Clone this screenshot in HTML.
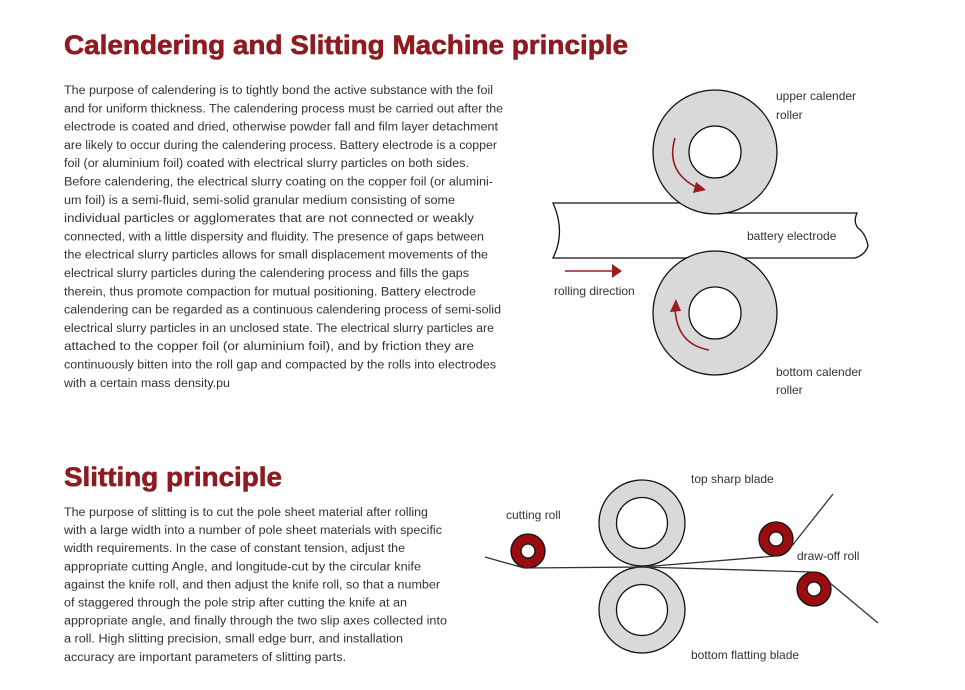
<!DOCTYPE html>
<html><head><meta charset="utf-8"><style>
html,body{margin:0;padding:0;background:#fff;}
svg{display:block;}
.t{font-family:"Liberation Sans",sans-serif;font-size:11.5px;fill:#333;}
.h{font-family:"Liberation Sans",sans-serif;font-weight:bold;font-size:27px;fill:#8e1b20;stroke:#8e1b20;stroke-width:0.6;}
</style></head><body>
<svg width="965" height="690" viewBox="0 0 965 690" xmlns="http://www.w3.org/2000/svg">
<text class="h" x="64" y="54" textLength="564" lengthAdjust="spacingAndGlyphs">Calendering and Slitting Machine principle</text>
<g class="t">
<text x="64" y="94" textLength="429" lengthAdjust="spacingAndGlyphs">The purpose of calendering is to tightly bond the active substance with the foil</text>
<text x="64" y="112.3" textLength="439" lengthAdjust="spacingAndGlyphs">and for uniform thickness. The calendering process must be carried out after the</text>
<text x="64" y="130.6" textLength="434" lengthAdjust="spacingAndGlyphs">electrode is coated and dried, otherwise powder fall and film layer detachment</text>
<text x="64" y="148.9" textLength="433" lengthAdjust="spacingAndGlyphs">are likely to occur during the calendering process. Battery electrode is a copper</text>
<text x="64" y="167.2" textLength="405" lengthAdjust="spacingAndGlyphs">foil (or aluminium foil) coated with electrical slurry particles on both sides.</text>
<text x="64" y="185.5" textLength="429" lengthAdjust="spacingAndGlyphs">Before calendering, the electrical slurry coating on the copper foil (or alumini-</text>
<text x="64" y="203.8" textLength="391" lengthAdjust="spacingAndGlyphs">um foil) is a semi-fluid, semi-solid granular medium consisting of some</text>
<text x="64" y="222.1" textLength="410" lengthAdjust="spacingAndGlyphs">individual particles or agglomerates that are not connected or weakly</text>
<text x="64" y="240.4" textLength="420" lengthAdjust="spacingAndGlyphs">connected, with a little dispersity and fluidity. The presence of gaps between</text>
<text x="64" y="258.7" textLength="424" lengthAdjust="spacingAndGlyphs">the electrical slurry particles allows for small displacement movements of the</text>
<text x="64" y="277" textLength="405" lengthAdjust="spacingAndGlyphs">electrical slurry particles during the calendering process and fills the gaps</text>
<text x="64" y="295.3" textLength="412" lengthAdjust="spacingAndGlyphs">therein, thus promote compaction for mutual positioning. Battery electrode</text>
<text x="64" y="313.6" textLength="437" lengthAdjust="spacingAndGlyphs">calendering can be regarded as a continuous calendering process of semi-solid</text>
<text x="64" y="331.9" textLength="430" lengthAdjust="spacingAndGlyphs">electrical slurry particles in an unclosed state. The electrical slurry particles are</text>
<text x="64" y="350.2" textLength="410" lengthAdjust="spacingAndGlyphs">attached to the copper foil (or aluminium foil), and by friction they are</text>
<text x="64" y="368.5" textLength="432" lengthAdjust="spacingAndGlyphs">continuously bitten into the roll gap and compacted by the rolls into electrodes</text>
<text x="64" y="386.8" textLength="166" lengthAdjust="spacingAndGlyphs">with a certain mass density.pu</text>
</g>

<!-- calender diagram -->
<path d="M553,203 L705,203 L705,213 L857,213 Q853,222 858,228 Q866,234 868,246 Q865,255 855,258 L553,258 Q566,232 553,203 Z" fill="#fff" stroke="#111" stroke-width="1.3"/>
<circle cx="715" cy="152" r="62" fill="#d9d9d9" stroke="#111" stroke-width="1.3"/>
<circle cx="715" cy="152" r="26" fill="#fff" stroke="#111" stroke-width="1.3"/>
<circle cx="715" cy="313" r="62" fill="#d9d9d9" stroke="#111" stroke-width="1.3"/>
<circle cx="715" cy="313" r="26" fill="#fff" stroke="#111" stroke-width="1.3"/>
<path d="M675,138 Q665,172 698,188" fill="none" stroke="#9a1c20" stroke-width="1.6"/>
<polygon points="706,190 693,193 696,182" fill="#9a1c20"/>
<path d="M709,350 Q676,344 675,307" fill="none" stroke="#9a1c20" stroke-width="1.6"/>
<polygon points="676,299 670,312 681,311" fill="#9a1c20"/>
<line x1="565" y1="271" x2="614" y2="271" stroke="#9a1c20" stroke-width="1.6"/>
<polygon points="622,271 612,264 612,278" fill="#9a1c20"/>
<g class="t" style="font-size:12px">
<text x="776" y="100">upper calender</text>
<text x="776" y="119">roller</text>
<text x="747" y="240">battery electrode</text>
<text x="554" y="295">rolling direction</text>
<text x="776" y="376">bottom calender</text>
<text x="776" y="394">roller</text>
</g>

<text class="h" x="64" y="486" textLength="218" lengthAdjust="spacingAndGlyphs">Slitting principle</text>
<g class="t">
<text x="64" y="516" textLength="364" lengthAdjust="spacingAndGlyphs">The purpose of slitting is to cut the pole sheet material after rolling</text>
<text x="64" y="534.1" textLength="378" lengthAdjust="spacingAndGlyphs">with a large width into a number of pole sheet materials with specific</text>
<text x="64" y="552.2" textLength="341" lengthAdjust="spacingAndGlyphs">width requirements. In the case of constant tension, adjust the</text>
<text x="64" y="570.3" textLength="357" lengthAdjust="spacingAndGlyphs">appropriate cutting Angle, and longitude-cut by the circular knife</text>
<text x="64" y="588.4" textLength="376" lengthAdjust="spacingAndGlyphs">against the knife roll, and then adjust the knife roll, so that a number</text>
<text x="64" y="606.5" textLength="343" lengthAdjust="spacingAndGlyphs">of staggered through the pole strip after cutting the knife at an</text>
<text x="64" y="624.6" textLength="383" lengthAdjust="spacingAndGlyphs">appropriate angle, and finally through the two slip axes collected into</text>
<text x="64" y="642.7" textLength="339" lengthAdjust="spacingAndGlyphs">a roll. High slitting precision, small edge burr, and installation</text>
<text x="64" y="660.8" textLength="282" lengthAdjust="spacingAndGlyphs">accuracy are important parameters of slitting parts.</text>
</g>

<!-- slitting diagram -->
<circle cx="642" cy="523" r="43" fill="#d9d9d9" stroke="#111" stroke-width="1.3"/>
<circle cx="642" cy="523" r="25.5" fill="#fff" stroke="#111" stroke-width="1.3"/>
<circle cx="642" cy="610" r="43" fill="#d9d9d9" stroke="#111" stroke-width="1.3"/>
<circle cx="642" cy="610" r="25.5" fill="#fff" stroke="#111" stroke-width="1.3"/>
<g stroke="#111" stroke-width="1.3">
<circle cx="528" cy="551" r="17" fill="#9a0c10"/>
<circle cx="528" cy="551" r="7" fill="#fff"/>
<circle cx="776" cy="539" r="17" fill="#9a0c10"/>
<circle cx="776" cy="539" r="7" fill="#fff"/>
<circle cx="814" cy="589" r="17" fill="#9a0c10"/>
<circle cx="814" cy="589" r="7" fill="#fff"/>
</g>
<g fill="none" stroke="#333" stroke-width="1.3">
<polyline points="485,557 524,568 642,567 776,556"/>
<line x1="791" y1="547" x2="833" y2="494"/>
<polyline points="642,567 812,572"/>
<line x1="830" y1="583" x2="878" y2="623"/>
</g>
<g class="t" style="font-size:12px">
<text x="691" y="483">top sharp blade</text>
<text x="506" y="519">cutting roll</text>
<text x="797" y="560">draw-off roll</text>
<text x="691" y="659">bottom flatting blade</text>
</g>
</svg>
</body></html>
